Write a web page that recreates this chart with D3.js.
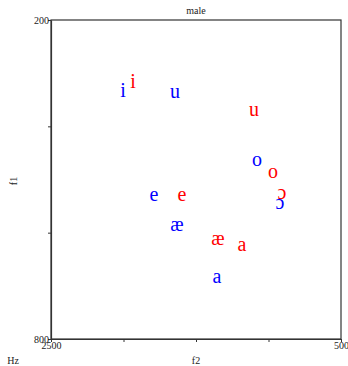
<!DOCTYPE html>
<html>
<head>
<meta charset="utf-8">
<script src="https://cdn.jsdelivr.net/npm/d3@7"></script>
<style>
  body { margin: 0; background: #fff; }
  text { font-family: "Liberation Serif", "Times New Roman", serif; }
</style>
</head>
<body>
<svg id="chart" width="348" height="366"></svg>
<script>
// vowel data, F2 / F1 in Hz, one array per speaker set
const vowels = ['i', 'u', 'o', 'ɔ', 'e', 'æ', 'a'];
const blueF2 = [2003, 1645, 1079, 921, 1790, 1631, 1355];
const blueF1 = [335, 338, 466, 547, 531, 587, 686];
const redF2 = [1934, 1100, 969, 907, 1597, 1348, 1183];
const redF1 = [318, 372, 488, 527, 531, 615, 626];

const xTicks = [2500, 2000, 1500, 1000, 500];
const yTicks = [200, 400, 600, 800];

// plot box edges
const pL = 51, pR = 341, pT = 20, pB = 339;

const svg = d3.select('#chart');

const x = d3.scaleLinear().domain([2500, 500]).range([pL, pR]);
const y = d3.scaleLinear().domain([200, 800]).range([pT, pB]);

// frame
svg.append('rect')
  .attr('x', pL).attr('y', pT)
  .attr('width', pR - pL).attr('height', pB - pT)
  .attr('fill', 'none')
  .attr('stroke', '#333')
  .attr('stroke-width', 1.2);

// axes, only the outer tick values get labels
const xAxis = svg.append('g')
  .attr('transform', `translate(0,${pB})`)
  .call(d3.axisBottom(x).tickValues(xTicks).tickSize(3).tickSizeOuter(0)
    .tickFormat(d => (d === 2500 || d === 500) ? d : ''));
const yAxis = svg.append('g')
  .attr('transform', `translate(${pL},0)`)
  .call(d3.axisLeft(y).tickValues(yTicks).tickSize(3).tickSizeOuter(0)
    .tickFormat(d => (d === 200 || d === 800) ? d : ''));

[xAxis, yAxis].forEach(a => {
  a.select('.domain').attr('stroke', '#333').attr('stroke-width', 1.2);
  a.selectAll('.tick line').attr('stroke', '#333');
  a.selectAll('.tick text')
    .style('font-family', '"Liberation Serif", serif')
    .style('font-size', '10px')
    .attr('fill', '#222');
});
xAxis.selectAll('.tick text').attr('dy', '0.55em').attr('y', 4);
yAxis.selectAll('.tick text').attr('x', -2);

// titles
svg.append('text').attr('x', 196).attr('y', 14)
  .attr('text-anchor', 'middle').style('font-size', '10px').attr('fill', '#222')
  .text('male');
svg.append('text').attr('x', 196).attr('y', 364)
  .attr('text-anchor', 'middle').style('font-size', '10px').attr('fill', '#222')
  .text('f2');
svg.append('text').attr('x', 13).attr('y', 364)
  .attr('text-anchor', 'middle').style('font-size', '10px').attr('fill', '#222')
  .text('Hz');
svg.append('text')
  .attr('transform', 'translate(17,181) rotate(-90)')
  .attr('text-anchor', 'middle').style('font-size', '10px').attr('fill', '#222')
  .text('f1');

// vowel symbols
const drawSet = (f2, f1, color) => {
  svg.append('g')
    .selectAll('text')
    .data(vowels)
    .join('text')
    .attr('x', (d, i) => x(f2[i]))
    .attr('y', (d, i) => y(f1[i]))
    .attr('dy', '0.24em')
    .attr('text-anchor', 'middle')
    .style('font-size', '20px')
    .attr('fill', color)
    .text(d => d);
};

drawSet(blueF2, blueF1, 'blue');
drawSet(redF2, redF1, 'red');
</script>
</body>
</html>
